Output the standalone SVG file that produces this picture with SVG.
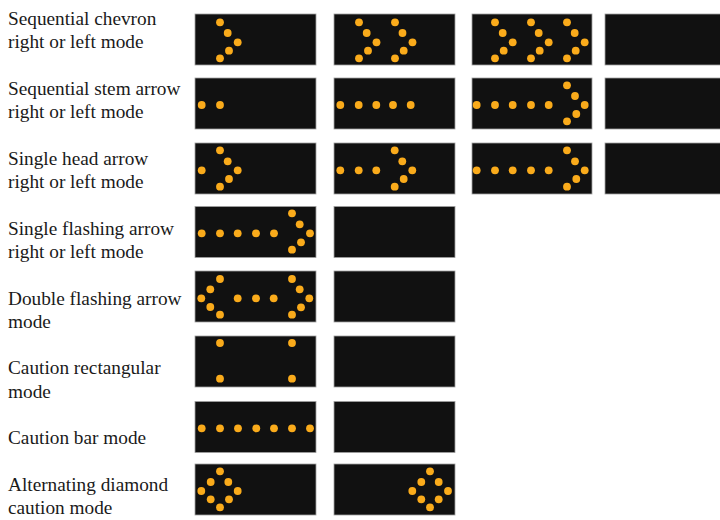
<svg xmlns="http://www.w3.org/2000/svg" width="720" height="520" viewBox="0 0 720 520">
<style>
.bg{fill:#ffffff}
.lbl{font-family:"Liberation Serif","Times New Roman",serif;font-size:19.3px;fill:#1a1a1a}
.panel{fill:#111111;stroke:#a0a0a0;stroke-width:0.8}
.dot{fill:#FAAB1B}
</style>
<defs>
<circle id="d" r="3.9" class="dot"/>
</defs>
<rect class="bg" x="0" y="0" width="720" height="520"/>

<g id="labels">
<text class="lbl" x="8" y="25">Sequential chevron</text>
<text class="lbl" x="8" y="48.3">right or left mode</text>
<text class="lbl" x="8" y="95">Sequential stem arrow</text>
<text class="lbl" x="8" y="118.2">right or left mode</text>
<text class="lbl" x="8" y="164.8">Single head arrow</text>
<text class="lbl" x="8" y="188">right or left mode</text>
<text class="lbl" x="8" y="234.6">Single flashing arrow</text>
<text class="lbl" x="8" y="257.9">right or left mode</text>
<text class="lbl" x="8" y="304.5">Double flashing arrow</text>
<text class="lbl" x="8" y="327.8">mode</text>
<text class="lbl" x="8" y="374.4">Caution rectangular</text>
<text class="lbl" x="8" y="397.7">mode</text>
<text class="lbl" x="8" y="444.3">Caution bar mode</text>
<text class="lbl" x="8" y="491">Alternating diamond</text>
<text class="lbl" x="8" y="514.2">caution mode</text>
</g>

<!-- Row 1: Sequential chevron -->
<g id="row1">
<rect class="panel" x="195" y="14" width="121" height="51"/>
<rect class="panel" x="334" y="14" width="121" height="51"/>
<rect class="panel" x="472" y="14" width="120" height="51"/>
<rect class="panel" x="605" y="14" width="121" height="51"/>
<g id="r1c1">
<use href="#d" x="220" y="22.3"/><use href="#d" x="227.7" y="33"/><use href="#d" x="237.7" y="42.3"/><use href="#d" x="229" y="50.7"/><use href="#d" x="220" y="58.3"/>
</g>
<g id="r1c2">
<use href="#d" x="359" y="22.3"/><use href="#d" x="366.7" y="33"/><use href="#d" x="376.5" y="42.3"/><use href="#d" x="368" y="50.7"/><use href="#d" x="359" y="58.3"/>
<use href="#d" x="395" y="22.3"/><use href="#d" x="402.5" y="33"/><use href="#d" x="412.5" y="42.3"/><use href="#d" x="403.7" y="50.7"/><use href="#d" x="395" y="58.3"/>
</g>
<g id="r1c3">
<use href="#d" x="495" y="22.3"/><use href="#d" x="502.7" y="33"/><use href="#d" x="512.7" y="42.3"/><use href="#d" x="503.7" y="50.7"/><use href="#d" x="495" y="58.3"/>
<use href="#d" x="531" y="22.3"/><use href="#d" x="538.7" y="33"/><use href="#d" x="548.7" y="42.3"/><use href="#d" x="539.7" y="50.7"/><use href="#d" x="531" y="58.3"/>
<use href="#d" x="567" y="22.3"/><use href="#d" x="574.7" y="33"/><use href="#d" x="584.7" y="42.3"/><use href="#d" x="575.7" y="50.7"/><use href="#d" x="567" y="58.3"/>
</g>
</g>

<!-- Row 2: Sequential stem arrow -->
<g id="row2">
<rect class="panel" x="195" y="78" width="121" height="51"/>
<rect class="panel" x="334" y="78" width="121" height="51"/>
<rect class="panel" x="472" y="78" width="120" height="51"/>
<rect class="panel" x="605" y="78" width="121" height="51"/>
<g id="r2c1">
<use href="#d" x="201.7" y="105"/><use href="#d" x="220" y="105"/>
</g>
<g id="r2c2">
<use href="#d" x="340.3" y="105"/><use href="#d" x="358.7" y="105"/><use href="#d" x="376.3" y="105"/><use href="#d" x="393" y="105"/><use href="#d" x="410.7" y="105"/>
</g>
<g id="r2c3">
<use href="#d" x="476.7" y="105"/><use href="#d" x="495" y="105"/><use href="#d" x="512.7" y="105"/><use href="#d" x="531" y="105"/><use href="#d" x="548.7" y="105"/>
<use href="#d" x="567" y="85.3"/><use href="#d" x="575" y="96"/><use href="#d" x="584.7" y="105"/><use href="#d" x="576.3" y="114"/><use href="#d" x="567" y="121.3"/>
</g>
</g>

<!-- Row 3: Single head arrow -->
<g id="row3">
<rect class="panel" x="195" y="143" width="121" height="51"/>
<rect class="panel" x="334" y="143" width="121" height="51"/>
<rect class="panel" x="472" y="143" width="120" height="51"/>
<rect class="panel" x="605" y="143" width="121" height="51"/>
<g id="r3c1">
<use href="#d" x="201.7" y="170.3"/>
<use href="#d" x="220" y="150.3"/><use href="#d" x="227.7" y="161.3"/><use href="#d" x="237.7" y="170.3"/><use href="#d" x="229" y="179"/><use href="#d" x="220" y="186.7"/>
</g>
<g id="r3c2">
<use href="#d" x="340.3" y="170.3"/><use href="#d" x="358.7" y="170.3"/><use href="#d" x="376.3" y="170.3"/>
<use href="#d" x="394.7" y="150.3"/><use href="#d" x="402.3" y="161.3"/><use href="#d" x="412.3" y="170.3"/><use href="#d" x="403.7" y="179"/><use href="#d" x="394.7" y="186.7"/>
</g>
<g id="r3c3">
<use href="#d" x="476.7" y="170.3"/><use href="#d" x="495" y="170.3"/><use href="#d" x="512.7" y="170.3"/><use href="#d" x="531" y="170.3"/><use href="#d" x="548.7" y="170.3"/>
<use href="#d" x="567" y="150.3"/><use href="#d" x="575" y="161.3"/><use href="#d" x="584.7" y="170.3"/><use href="#d" x="576.3" y="179"/><use href="#d" x="567" y="186.7"/>
</g>
</g>

<!-- Row 4: Single flashing arrow -->
<g id="row4">
<rect class="panel" x="195" y="206.5" width="121" height="51"/>
<rect class="panel" x="334" y="206.5" width="121" height="51"/>
<g id="r4c1">
<use href="#d" x="201.7" y="233.3"/><use href="#d" x="220" y="233.3"/><use href="#d" x="237.7" y="233.3"/><use href="#d" x="256" y="233.3"/><use href="#d" x="274" y="233.3"/>
<use href="#d" x="292" y="213.3"/><use href="#d" x="299.7" y="224.3"/><use href="#d" x="310" y="233.3"/><use href="#d" x="301" y="242.3"/><use href="#d" x="292" y="249.7"/>
</g>
</g>

<!-- Row 5: Double flashing arrow -->
<g id="row5">
<rect class="panel" x="195" y="271" width="121" height="51"/>
<rect class="panel" x="334" y="271" width="121" height="51"/>
<g id="r5c1">
<use href="#d" x="220" y="279"/><use href="#d" x="210.3" y="289.3"/><use href="#d" x="201.3" y="298.3"/><use href="#d" x="210.3" y="307"/><use href="#d" x="220" y="314.7"/>
<use href="#d" x="237.7" y="298.3"/><use href="#d" x="256" y="298.3"/><use href="#d" x="273.7" y="298.3"/>
<use href="#d" x="292" y="279"/><use href="#d" x="299.7" y="289.3"/><use href="#d" x="309.3" y="298.3"/><use href="#d" x="301" y="307.3"/><use href="#d" x="292" y="314.7"/>
</g>
</g>

<!-- Row 6: Caution rectangular -->
<g id="row6">
<rect class="panel" x="195" y="336" width="121" height="51"/>
<rect class="panel" x="334" y="336" width="121" height="51"/>
<g id="r6c1">
<use href="#d" x="220" y="343"/><use href="#d" x="292" y="343"/><use href="#d" x="220" y="378.7"/><use href="#d" x="292" y="378.7"/>
</g>
</g>

<!-- Row 7: Caution bar -->
<g id="row7">
<rect class="panel" x="195" y="401.5" width="121" height="51"/>
<rect class="panel" x="334" y="401.5" width="121" height="51"/>
<g id="r7c1">
<use href="#d" x="201.7" y="428.3"/><use href="#d" x="220" y="428.3"/><use href="#d" x="238" y="428.3"/><use href="#d" x="256.3" y="428.3"/><use href="#d" x="274" y="428.3"/><use href="#d" x="292" y="428.3"/><use href="#d" x="310" y="428.3"/>
</g>
</g>

<!-- Row 8: Alternating diamond -->
<g id="row8">
<rect class="panel" x="195" y="464" width="121" height="51"/>
<rect class="panel" x="334" y="464" width="121" height="51"/>
<g id="r8c1">
<use href="#d" x="220" y="471.3"/><use href="#d" x="210.7" y="482"/><use href="#d" x="228.3" y="482"/><use href="#d" x="201.3" y="491"/><use href="#d" x="237.7" y="491"/><use href="#d" x="210.7" y="499.3"/><use href="#d" x="229" y="499.3"/><use href="#d" x="220" y="507.3"/>
</g>
<g id="r8c2">
<use href="#d" x="430" y="471.3"/><use href="#d" x="421.3" y="482"/><use href="#d" x="438.7" y="482"/><use href="#d" x="412.3" y="491"/><use href="#d" x="448" y="491"/><use href="#d" x="421.3" y="499.3"/><use href="#d" x="438.7" y="499.3"/><use href="#d" x="430" y="507.3"/>
</g>
</g>
</svg>
